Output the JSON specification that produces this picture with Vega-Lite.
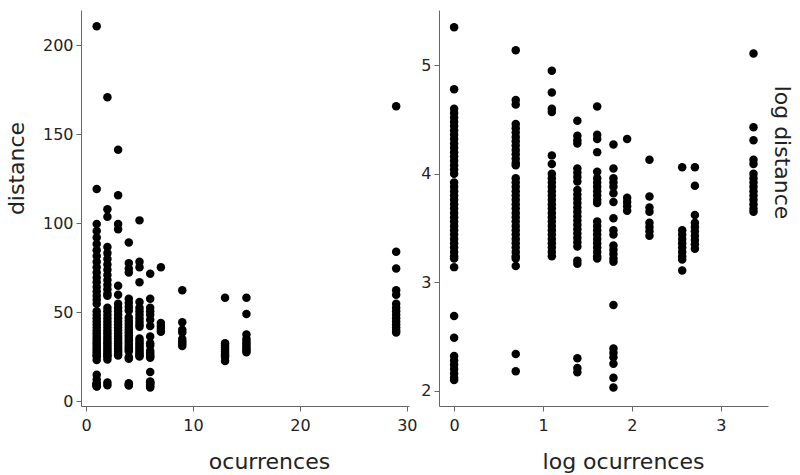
{
"$schema": "https://vega.github.io/schema/vega-lite/v6.json",
"padding": {"left": 5, "top": 10, "right": 8, "bottom": 2},
"background": "white",
"config": {"view": {"stroke": null}, "axis": {"grid": false, "domainColor": "#666", "tickColor": "#666", "labelColor": "#222", "titleColor": "#222", "labelFont": "DejaVu Sans", "titleFont": "DejaVu Sans", "labelFontSize": 16, "titleFontSize": 22, "titleFontWeight": "normal", "tickSize": 5, "labelPadding": 3}},
"datasets": {"pts": [
{"occ":1,"logocc":0,"dist":210.6,"logdist":5.35},{"occ":1,"logocc":0,"dist":119.1,"logdist":4.78},{"occ":1,"logocc":0,"dist":99.48,"logdist":4.60},{"occ":1,"logocc":0,"dist":95.58,"logdist":4.56},{"occ":1,"logocc":0,"dist":91.84,"logdist":4.52},{"occ":1,"logocc":0,"dist":88.23,"logdist":4.48},{"occ":1,"logocc":0,"dist":84.77,"logdist":4.44},{"occ":1,"logocc":0,"dist":81.45,"logdist":4.40},{"occ":1,"logocc":0,"dist":78.26,"logdist":4.36},{"occ":1,"logocc":0,"dist":75.19,"logdist":4.32},{"occ":1,"logocc":0,"dist":72.24,"logdist":4.28},{"occ":1,"logocc":0,"dist":69.41,"logdist":4.24},{"occ":1,"logocc":0,"dist":66.69,"logdist":4.20},{"occ":1,"logocc":0,"dist":64.07,"logdist":4.16},{"occ":1,"logocc":0,"dist":61.56,"logdist":4.12},{"occ":1,"logocc":0,"dist":59.15,"logdist":4.08},{"occ":1,"logocc":0,"dist":56.83,"logdist":4.04},{"occ":1,"logocc":0,"dist":54.60,"logdist":4.00},{"occ":1,"logocc":0,"dist":50.40,"logdist":3.92},{"occ":1,"logocc":0,"dist":48.42,"logdist":3.88},{"occ":1,"logocc":0,"dist":46.53,"logdist":3.84},{"occ":1,"logocc":0,"dist":44.70,"logdist":3.80},{"occ":1,"logocc":0,"dist":42.95,"logdist":3.76},{"occ":1,"logocc":0,"dist":41.26,"logdist":3.72},{"occ":1,"logocc":0,"dist":39.65,"logdist":3.68},{"occ":1,"logocc":0,"dist":38.09,"logdist":3.64},{"occ":1,"logocc":0,"dist":36.60,"logdist":3.60},{"occ":1,"logocc":0,"dist":35.16,"logdist":3.56},{"occ":1,"logocc":0,"dist":33.78,"logdist":3.52},{"occ":1,"logocc":0,"dist":32.46,"logdist":3.48},{"occ":1,"logocc":0,"dist":31.19,"logdist":3.44},{"occ":1,"logocc":0,"dist":29.96,"logdist":3.40},{"occ":1,"logocc":0,"dist":28.79,"logdist":3.36},{"occ":1,"logocc":0,"dist":27.66,"logdist":3.32},{"occ":1,"logocc":0,"dist":26.58,"logdist":3.28},{"occ":1,"logocc":0,"dist":25.53,"logdist":3.24},{"occ":1,"logocc":0,"dist":25.03,"logdist":3.22},{"occ":1,"logocc":0,"dist":23.10,"logdist":3.14},{"occ":1,"logocc":0,"dist":14.73,"logdist":2.69},{"occ":1,"logocc":0,"dist":12.06,"logdist":2.49},{"occ":1,"logocc":0,"dist":10.18,"logdist":2.32},{"occ":1,"logocc":0,"dist":9.78,"logdist":2.28},{"occ":1,"logocc":0,"dist":9.39,"logdist":2.24},{"occ":1,"logocc":0,"dist":9.03,"logdist":2.20},{"occ":1,"logocc":0,"dist":8.67,"logdist":2.16},{"occ":1,"logocc":0,"dist":8.33,"logdist":2.12},{"occ":1,"logocc":0,"dist":8.17,"logdist":2.10},
{"occ":2,"logocc":0.693,"dist":170.7,"logdist":5.14},{"occ":2,"logocc":0.693,"dist":107.8,"logdist":4.68},{"occ":2,"logocc":0.693,"dist":103.5,"logdist":4.64},{"occ":2,"logocc":0.693,"dist":86.49,"logdist":4.46},{"occ":2,"logocc":0.693,"dist":83.10,"logdist":4.42},{"occ":2,"logocc":0.693,"dist":79.84,"logdist":4.38},{"occ":2,"logocc":0.693,"dist":76.71,"logdist":4.34},{"occ":2,"logocc":0.693,"dist":73.70,"logdist":4.30},{"occ":2,"logocc":0.693,"dist":70.81,"logdist":4.26},{"occ":2,"logocc":0.693,"dist":68.03,"logdist":4.22},{"occ":2,"logocc":0.693,"dist":65.37,"logdist":4.18},{"occ":2,"logocc":0.693,"dist":62.80,"logdist":4.14},{"occ":2,"logocc":0.693,"dist":60.34,"logdist":4.10},{"occ":2,"logocc":0.693,"dist":59.15,"logdist":4.08},{"occ":2,"logocc":0.693,"dist":52.46,"logdist":3.96},{"occ":2,"logocc":0.693,"dist":50.40,"logdist":3.92},{"occ":2,"logocc":0.693,"dist":48.42,"logdist":3.88},{"occ":2,"logocc":0.693,"dist":46.53,"logdist":3.84},{"occ":2,"logocc":0.693,"dist":44.70,"logdist":3.80},{"occ":2,"logocc":0.693,"dist":42.95,"logdist":3.76},{"occ":2,"logocc":0.693,"dist":41.26,"logdist":3.72},{"occ":2,"logocc":0.693,"dist":39.65,"logdist":3.68},{"occ":2,"logocc":0.693,"dist":38.09,"logdist":3.64},{"occ":2,"logocc":0.693,"dist":36.60,"logdist":3.60},{"occ":2,"logocc":0.693,"dist":35.16,"logdist":3.56},{"occ":2,"logocc":0.693,"dist":33.78,"logdist":3.52},{"occ":2,"logocc":0.693,"dist":32.46,"logdist":3.48},{"occ":2,"logocc":0.693,"dist":31.19,"logdist":3.44},{"occ":2,"logocc":0.693,"dist":29.96,"logdist":3.40},{"occ":2,"logocc":0.693,"dist":28.79,"logdist":3.36},{"occ":2,"logocc":0.693,"dist":27.66,"logdist":3.32},{"occ":2,"logocc":0.693,"dist":26.58,"logdist":3.28},{"occ":2,"logocc":0.693,"dist":25.53,"logdist":3.24},{"occ":2,"logocc":0.693,"dist":25.03,"logdist":3.22},{"occ":2,"logocc":0.693,"dist":23.34,"logdist":3.15},{"occ":2,"logocc":0.693,"dist":10.38,"logdist":2.34},{"occ":2,"logocc":0.693,"dist":8.85,"logdist":2.18},
{"occ":3,"logocc":1.099,"dist":141.2,"logdist":4.95},{"occ":3,"logocc":1.099,"dist":115.6,"logdist":4.75},{"occ":3,"logocc":1.099,"dist":99.48,"logdist":4.60},{"occ":3,"logocc":1.099,"dist":96.54,"logdist":4.57},{"occ":3,"logocc":1.099,"dist":64.72,"logdist":4.17},{"occ":3,"logocc":1.099,"dist":59.74,"logdist":4.09},{"occ":3,"logocc":1.099,"dist":54.60,"logdist":4.00},{"occ":3,"logocc":1.099,"dist":52.46,"logdist":3.96},{"occ":3,"logocc":1.099,"dist":50.40,"logdist":3.92},{"occ":3,"logocc":1.099,"dist":48.42,"logdist":3.88},{"occ":3,"logocc":1.099,"dist":46.53,"logdist":3.84},{"occ":3,"logocc":1.099,"dist":44.70,"logdist":3.80},{"occ":3,"logocc":1.099,"dist":42.95,"logdist":3.76},{"occ":3,"logocc":1.099,"dist":41.26,"logdist":3.72},{"occ":3,"logocc":1.099,"dist":39.65,"logdist":3.68},{"occ":3,"logocc":1.099,"dist":38.09,"logdist":3.64},{"occ":3,"logocc":1.099,"dist":36.60,"logdist":3.60},{"occ":3,"logocc":1.099,"dist":35.16,"logdist":3.56},{"occ":3,"logocc":1.099,"dist":33.78,"logdist":3.52},{"occ":3,"logocc":1.099,"dist":32.46,"logdist":3.48},{"occ":3,"logocc":1.099,"dist":31.19,"logdist":3.44},{"occ":3,"logocc":1.099,"dist":29.96,"logdist":3.40},{"occ":3,"logocc":1.099,"dist":28.79,"logdist":3.36},{"occ":3,"logocc":1.099,"dist":27.66,"logdist":3.32},{"occ":3,"logocc":1.099,"dist":26.58,"logdist":3.28},{"occ":3,"logocc":1.099,"dist":25.53,"logdist":3.24},
{"occ":4,"logocc":1.386,"dist":89.12,"logdist":4.49},{"occ":4,"logocc":1.386,"dist":77.48,"logdist":4.35},{"occ":4,"logocc":1.386,"dist":74.44,"logdist":4.31},{"occ":4,"logocc":1.386,"dist":72.24,"logdist":4.28},{"occ":4,"logocc":1.386,"dist":57.40,"logdist":4.05},{"occ":4,"logocc":1.386,"dist":55.15,"logdist":4.01},{"occ":4,"logocc":1.386,"dist":52.99,"logdist":3.97},{"occ":4,"logocc":1.386,"dist":50.91,"logdist":3.93},{"occ":4,"logocc":1.386,"dist":46.99,"logdist":3.85},{"occ":4,"logocc":1.386,"dist":45.15,"logdist":3.81},{"occ":4,"logocc":1.386,"dist":43.38,"logdist":3.77},{"occ":4,"logocc":1.386,"dist":41.68,"logdist":3.73},{"occ":4,"logocc":1.386,"dist":40.04,"logdist":3.69},{"occ":4,"logocc":1.386,"dist":38.47,"logdist":3.65},{"occ":4,"logocc":1.386,"dist":36.97,"logdist":3.61},{"occ":4,"logocc":1.386,"dist":35.52,"logdist":3.57},{"occ":4,"logocc":1.386,"dist":34.12,"logdist":3.53},{"occ":4,"logocc":1.386,"dist":32.79,"logdist":3.49},{"occ":4,"logocc":1.386,"dist":31.50,"logdist":3.45},{"occ":4,"logocc":1.386,"dist":30.27,"logdist":3.41},{"occ":4,"logocc":1.386,"dist":29.08,"logdist":3.37},{"occ":4,"logocc":1.386,"dist":27.94,"logdist":3.33},{"occ":4,"logocc":1.386,"dist":24.53,"logdist":3.20},{"occ":4,"logocc":1.386,"dist":23.81,"logdist":3.17},{"occ":4,"logocc":1.386,"dist":9.97,"logdist":2.30},{"occ":4,"logocc":1.386,"dist":9.12,"logdist":2.21},{"occ":4,"logocc":1.386,"dist":8.76,"logdist":2.17},
{"occ":5,"logocc":1.609,"dist":101.5,"logdist":4.62},{"occ":5,"logocc":1.609,"dist":78.26,"logdist":4.36},{"occ":5,"logocc":1.609,"dist":75.19,"logdist":4.32},{"occ":5,"logocc":1.609,"dist":66.69,"logdist":4.20},{"occ":5,"logocc":1.609,"dist":55.70,"logdist":4.02},{"occ":5,"logocc":1.609,"dist":52.46,"logdist":3.96},{"occ":5,"logocc":1.609,"dist":50.40,"logdist":3.92},{"occ":5,"logocc":1.609,"dist":48.42,"logdist":3.88},{"occ":5,"logocc":1.609,"dist":46.53,"logdist":3.84},{"occ":5,"logocc":1.609,"dist":44.70,"logdist":3.80},{"occ":5,"logocc":1.609,"dist":42.95,"logdist":3.76},{"occ":5,"logocc":1.609,"dist":41.68,"logdist":3.73},{"occ":5,"logocc":1.609,"dist":35.16,"logdist":3.56},{"occ":5,"logocc":1.609,"dist":33.78,"logdist":3.52},{"occ":5,"logocc":1.609,"dist":32.46,"logdist":3.48},{"occ":5,"logocc":1.609,"dist":31.19,"logdist":3.44},{"occ":5,"logocc":1.609,"dist":29.96,"logdist":3.40},{"occ":5,"logocc":1.609,"dist":28.79,"logdist":3.36},{"occ":5,"logocc":1.609,"dist":27.66,"logdist":3.32},{"occ":5,"logocc":1.609,"dist":26.58,"logdist":3.28},{"occ":5,"logocc":1.609,"dist":25.53,"logdist":3.24},{"occ":5,"logocc":1.609,"dist":25.03,"logdist":3.22},
{"occ":6,"logocc":1.792,"dist":71.52,"logdist":4.27},{"occ":6,"logocc":1.792,"dist":57.40,"logdist":4.05},{"occ":6,"logocc":1.792,"dist":52.46,"logdist":3.96},{"occ":6,"logocc":1.792,"dist":50.40,"logdist":3.92},{"occ":6,"logocc":1.792,"dist":48.42,"logdist":3.88},{"occ":6,"logocc":1.792,"dist":45.60,"logdist":3.82},{"occ":6,"logocc":1.792,"dist":42.10,"logdist":3.74},{"occ":6,"logocc":1.792,"dist":36.23,"logdist":3.59},{"occ":6,"logocc":1.792,"dist":32.46,"logdist":3.48},{"occ":6,"logocc":1.792,"dist":31.19,"logdist":3.44},{"occ":6,"logocc":1.792,"dist":28.22,"logdist":3.34},{"occ":6,"logocc":1.792,"dist":27.11,"logdist":3.30},{"occ":6,"logocc":1.792,"dist":26.05,"logdist":3.26},{"occ":6,"logocc":1.792,"dist":25.03,"logdist":3.22},{"occ":6,"logocc":1.792,"dist":24.29,"logdist":3.19},{"occ":6,"logocc":1.792,"dist":16.28,"logdist":2.79},{"occ":6,"logocc":1.792,"dist":10.91,"logdist":2.39},{"occ":6,"logocc":1.792,"dist":10.49,"logdist":2.35},{"occ":6,"logocc":1.792,"dist":10.07,"logdist":2.31},{"occ":6,"logocc":1.792,"dist":9.49,"logdist":2.25},{"occ":6,"logocc":1.792,"dist":8.33,"logdist":2.12},{"occ":6,"logocc":1.792,"dist":7.61,"logdist":2.03},
{"occ":7,"logocc":1.946,"dist":75.19,"logdist":4.32},{"occ":7,"logocc":1.946,"dist":43.82,"logdist":3.78},{"occ":7,"logocc":1.946,"dist":42.10,"logdist":3.74},{"occ":7,"logocc":1.946,"dist":40.45,"logdist":3.70},{"occ":7,"logocc":1.946,"dist":38.86,"logdist":3.66},
{"occ":9,"logocc":2.197,"dist":62.18,"logdist":4.13},{"occ":9,"logocc":2.197,"dist":44.26,"logdist":3.79},{"occ":9,"logocc":2.197,"dist":40.04,"logdist":3.69},{"occ":9,"logocc":2.197,"dist":38.47,"logdist":3.65},{"occ":9,"logocc":2.197,"dist":34.81,"logdist":3.55},{"occ":9,"logocc":2.197,"dist":33.45,"logdist":3.51},{"occ":9,"logocc":2.197,"dist":32.14,"logdist":3.47},{"occ":9,"logocc":2.197,"dist":30.88,"logdist":3.43},
{"occ":13,"logocc":2.565,"dist":57.97,"logdist":4.06},{"occ":13,"logocc":2.565,"dist":32.46,"logdist":3.48},{"occ":13,"logocc":2.565,"dist":31.19,"logdist":3.44},{"occ":13,"logocc":2.565,"dist":29.96,"logdist":3.40},{"occ":13,"logocc":2.565,"dist":28.79,"logdist":3.36},{"occ":13,"logocc":2.565,"dist":27.66,"logdist":3.32},{"occ":13,"logocc":2.565,"dist":26.58,"logdist":3.28},{"occ":13,"logocc":2.565,"dist":25.53,"logdist":3.24},{"occ":13,"logocc":2.565,"dist":24.78,"logdist":3.21},{"occ":13,"logocc":2.565,"dist":22.42,"logdist":3.11},
{"occ":15,"logocc":2.708,"dist":57.97,"logdist":4.06},{"occ":15,"logocc":2.708,"dist":48.91,"logdist":3.89},{"occ":15,"logocc":2.708,"dist":37.34,"logdist":3.62},{"occ":15,"logocc":2.708,"dist":34.81,"logdist":3.55},{"occ":15,"logocc":2.708,"dist":33.45,"logdist":3.51},{"occ":15,"logocc":2.708,"dist":32.14,"logdist":3.47},{"occ":15,"logocc":2.708,"dist":30.88,"logdist":3.43},{"occ":15,"logocc":2.708,"dist":29.67,"logdist":3.39},{"occ":15,"logocc":2.708,"dist":28.50,"logdist":3.35},{"occ":15,"logocc":2.708,"dist":27.39,"logdist":3.31},
{"occ":29,"logocc":3.367,"dist":165.6,"logdist":5.11},{"occ":29,"logocc":3.367,"dist":83.93,"logdist":4.43},{"occ":29,"logocc":3.367,"dist":74.44,"logdist":4.31},{"occ":29,"logocc":3.367,"dist":62.18,"logdist":4.13},{"occ":29,"logocc":3.367,"dist":59.74,"logdist":4.09},{"occ":29,"logocc":3.367,"dist":54.60,"logdist":4.00},{"occ":29,"logocc":3.367,"dist":52.46,"logdist":3.96},{"occ":29,"logocc":3.367,"dist":50.40,"logdist":3.92},{"occ":29,"logocc":3.367,"dist":48.42,"logdist":3.88},{"occ":29,"logocc":3.367,"dist":46.53,"logdist":3.84},{"occ":29,"logocc":3.367,"dist":44.70,"logdist":3.80},{"occ":29,"logocc":3.367,"dist":42.95,"logdist":3.76},{"occ":29,"logocc":3.367,"dist":41.26,"logdist":3.72},{"occ":29,"logocc":3.367,"dist":39.65,"logdist":3.68},{"occ":29,"logocc":3.367,"dist":38.47,"logdist":3.65}
]},
"spacing": 30,
"bounds": "flush",
"hconcat": [
{"width": 328, "height": 396, "data": {"name": "pts"},
 "mark": {"type": "point", "filled": true, "size": 72, "color": "black", "opacity": 1},
 "encoding": {
  "x": {"field": "occ", "type": "quantitative", "scale": {"domain": [-0.47, 30.2], "nice": false, "zero": false},
        "axis": {"values": [0, 10, 20, 30], "title": "ocurrences", "titleX": 188, "titleY": 62, "titleBaseline": "alphabetic", "titleAlign": "center", "labelPadding": 6}},
  "y": {"field": "dist", "type": "quantitative", "scale": {"domain": [-2.8, 219.7], "nice": false, "zero": false},
        "axis": {"values": [0, 50, 100, 150, 200], "title": "distance", "titleX": -65, "titleY": 158, "titleBaseline": "middle", "titleAlign": "center"}}
 }},
{"width": 329, "height": 396, "data": {"name": "pts"},
 "mark": {"type": "point", "filled": true, "size": 72, "color": "black", "opacity": 1},
 "encoding": {
  "x": {"field": "logocc", "type": "quantitative", "scale": {"domain": [-0.17, 3.53], "nice": false, "zero": false},
        "axis": {"values": [0, 1, 2, 3], "title": "log ocurrences", "titleX": 184, "titleY": 62, "titleBaseline": "alphabetic", "titleAlign": "center", "labelPadding": 6}},
  "y": {"field": "logdist", "type": "quantitative", "scale": {"domain": [1.86, 5.51], "nice": false, "zero": false},
        "axis": {"values": [2, 3, 4, 5], "title": "log distance", "titleX": 342, "titleY": 142, "titleAngle": 90, "titleBaseline": "middle", "titleAlign": "center"}}
 }}
]
}
